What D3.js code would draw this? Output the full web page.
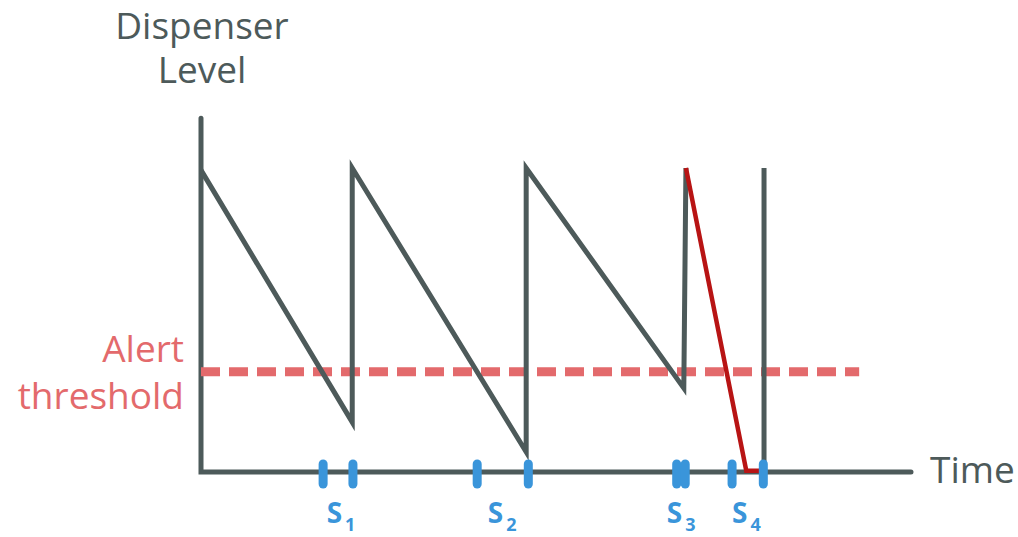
<!DOCTYPE html>
<html>
<head>
<meta charset="utf-8">
<script src="https://cdn.jsdelivr.net/npm/d3@7"></script>
<style>
  body { margin: 0; background: #fff; }
  svg text { font-family: "Open Sans", "Liberation Sans", sans-serif; }
</style>
</head>
<body>
<svg id="chart" width="1018" height="537"></svg>
<script>
// dispenser level over time (sawtooth)
var levelTimes  = [0, 21.3, 21.3, 45.8, 45.8, 68.0, 68.3];
var levelValues = [99.3, 16.4, 100, 6.6, 100, 27.6, 100];

// fast drain after the third refill (red)
var drainTimes  = [68.3, 76.8, 79.3];
var drainValues = [100, 0.4, 0.4];

// refill at the end
var refillTimes  = [79.3, 79.3];
var refillValues = [0.4, 100];

var alertThreshold = 33;
var thresholdEnd = 92.7;

// blue marks on the time axis
var markTimes = [17.2, 21.4, 38.9, 46.1, 67.0, 68.2, 74.8, 79.2];
var labelNames = ['1', '2', '3', '4'];
var labelTimes = [17.7, 40.4, 65.6, 74.8];

var yAxisTop = 116.4;

var gray = '#4d5a5a';
var red = '#b81414';
var pink = '#e36a6c';
var blue = '#3a95da';

var svg = d3.select('#chart');

var x = d3.scaleLinear().domain([0, 100]).range([201, 911]);
var y = d3.scaleLinear().domain([0, 100]).range([472, 168]);

var line = d3.line()
    .x(function(d) { return x(d[0]); })
    .y(function(d) { return y(d[1]); });

function pairs(xs, ys) {
    return xs.map(function(t, i) { return [t, ys[i]]; });
}

// axes, drawn as plain lines
svg.append('path')
    .attr('d', line([[0, yAxisTop], [0, 0], [100, 0]]))
    .attr('fill', 'none')
    .attr('stroke', gray)
    .attr('stroke-width', 5)
    .attr('stroke-linecap', 'round')
    .attr('stroke-linejoin', 'miter');

// alert threshold
svg.append('line')
    .attr('x1', x(0)).attr('x2', x(thresholdEnd))
    .attr('y1', y(alertThreshold)).attr('y2', y(alertThreshold))
    .attr('stroke', pink)
    .attr('stroke-width', 9)
    .attr('stroke-dasharray', '19 9');

// sawtooth
svg.append('path')
    .attr('d', line(pairs(levelTimes, levelValues)))
    .attr('fill', 'none')
    .attr('stroke', gray)
    .attr('stroke-width', 5)
    .attr('stroke-linejoin', 'miter');

svg.append('path')
    .attr('d', line(pairs(refillTimes, refillValues)))
    .attr('fill', 'none')
    .attr('stroke', gray)
    .attr('stroke-width', 5);

svg.append('path')
    .attr('d', line(pairs(drainTimes, drainValues)))
    .attr('fill', 'none')
    .attr('stroke', red)
    .attr('stroke-width', 4.5)
    .attr('stroke-linejoin', 'miter');

// blue marks
svg.selectAll('line.mark')
    .data(markTimes)
    .enter()
    .append('line')
    .attr('class', 'mark')
    .attr('x1', function(d) { return x(d); })
    .attr('x2', function(d) { return x(d); })
    .attr('y1', 464)
    .attr('y2', 484)
    .attr('stroke', blue)
    .attr('stroke-width', 9)
    .attr('stroke-linecap', 'round');

// S labels
var labels = svg.selectAll('text.slabel')
    .data(labelNames)
    .enter()
    .append('text')
    .attr('class', 'slabel')
    .attr('x', function(d, i) { return x(labelTimes[i]); })
    .attr('y', 523)
    .attr('fill', blue)
    .style('font-weight', 'bold')
    .style('font-size', '28px');
labels.append('tspan').text('S');
labels.append('tspan')
    .attr('dx', 3)
    .attr('dy', 8)
    .style('font-size', '18px')
    .text(function(d) { return d; });

// titles
svg.append('text')
    .attr('x', 202).attr('y', 39)
    .attr('text-anchor', 'middle')
    .attr('fill', gray)
    .style('font-size', '37px')
    .text('Dispenser');
svg.append('text')
    .attr('x', 202).attr('y', 83)
    .attr('text-anchor', 'middle')
    .attr('fill', gray)
    .style('font-size', '37px')
    .text('Level');

svg.append('text')
    .attr('x', 930).attr('y', 483)
    .attr('fill', gray)
    .style('font-size', '37px')
    .text('Time');

svg.append('text')
    .attr('x', 184).attr('y', 362)
    .attr('text-anchor', 'end')
    .attr('fill', pink)
    .style('font-size', '37px')
    .text('Alert');
svg.append('text')
    .attr('x', 184).attr('y', 409)
    .attr('text-anchor', 'end')
    .attr('fill', pink)
    .style('font-size', '37px')
    .text('threshold');
</script>
</body>
</html>
